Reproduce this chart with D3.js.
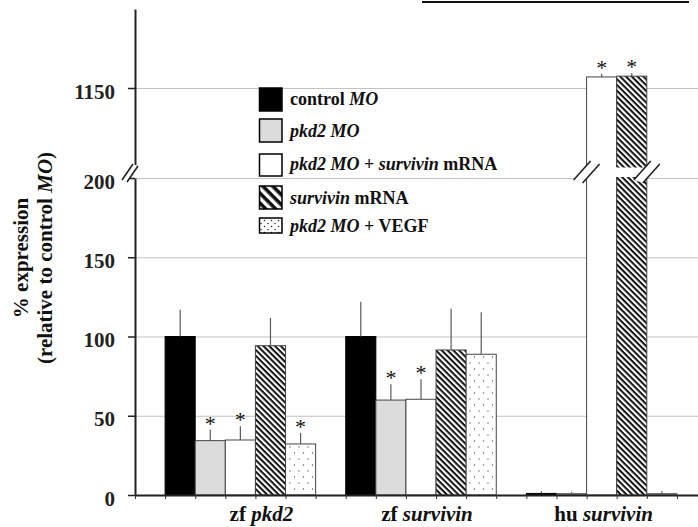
<!DOCTYPE html>
<html><head><meta charset="utf-8">
<script src="https://cdn.jsdelivr.net/npm/d3@7"></script>
<style>
html,body{margin:0;padding:0;background:#fff;}
svg{display:block;}
svg text{font-family:"Liberation Serif","Tinos","Times New Roman",Times,"DejaVu Serif",serif;}
</style></head><body>
<svg id="chart" width="698" height="527"></svg>
<script>
// Gene groups along the x axis
const groups = ["zf pkd2", "zf survivin", "hu survivin"];
const groupPrefix = ["zf", "zf", "hu"];
const groupGene = ["pkd2", "survivin", "survivin"];

// Treatments; legend labels as [text, italic] pieces
const seriesNames = ["control MO", "pkd2 MO", "pkd2 MO + survivin mRNA", "survivin mRNA", "pkd2 MO + VEGF"];
const seriesLabels = [
  [["control ", false], ["MO", true]],
  [["pkd2 MO", true]],
  [["pkd2 MO", true], [" + ", false], ["survivin", true], [" mRNA", false]],
  [["survivin", true], [" mRNA", false]],
  [["pkd2 MO", true], [" + VEGF", false]]
];

// % expression relative to control MO (zf pkd2, zf survivin, hu survivin)
const controlMO    = [100, 100, 1];
const pkd2MO       = [34.3, 59.9, 0.8];
const pkd2Survivin = [34.7, 60.4, 1157];
const survivinMRNA = [94.2, 91.5, 1157.5];
const pkd2VEGF     = [32.2, 88.8, 0.8];

// error bar heights (upper arm only)
const controlErr      = [16.8, 22, 1.5];
const pkd2Err         = [7, 10, 1];
const pkd2SurvivinErr = [8.6, 12.6, 2];
const survivinErr     = [17.5, 26, 2];
const vegfErr         = [7, 26.5, 1.5];

// significance markers
const controlSig      = [false, false, false];
const pkd2Sig         = [true, true, false];
const pkd2SurvivinSig = [true, true, true];
const survivinSig     = [false, false, true];
const vegfSig         = [true, false, false];

const lowTicks = [0, 50, 100, 150, 200];
const highTicks = [1150];

const seriesValues = [controlMO, pkd2MO, pkd2Survivin, survivinMRNA, pkd2VEGF];
const seriesErrors = [controlErr, pkd2Err, pkd2SurvivinErr, survivinErr, vegfErr];
const seriesSig = [controlSig, pkd2Sig, pkd2SurvivinSig, survivinSig, vegfSig];

const FONT = '"Liberation Serif", Tinos, "Times New Roman", Times, "DejaVu Serif", serif';
const svg = d3.select("#chart");
const W = 698, H = 527;
svg.append("rect").attr("width", W).attr("height", H).attr("fill", "#fff");

// ---- patterns ----
const defs = svg.append("defs");
function hatch(id, size, stripe) {
  const p = defs.append("pattern").attr("id", id).attr("patternUnits", "userSpaceOnUse")
    .attr("width", size).attr("height", size).attr("patternTransform", "rotate(45)");
  p.append("rect").attr("width", size).attr("height", size).attr("fill", "#fff");
  p.append("rect").attr("width", size).attr("height", stripe).attr("fill", "#111");
}
hatch("hatchBar", 4.1, 2);
hatch("hatchLegend", 7, 3.6);
function dots(id, w, h, pts, r, col) {
  const p = defs.append("pattern").attr("id", id).attr("patternUnits", "userSpaceOnUse")
    .attr("width", w).attr("height", h);
  p.append("rect").attr("width", w).attr("height", h).attr("fill", "#fff");
  pts.forEach(([x, y]) => p.append("circle").attr("cx", x).attr("cy", y).attr("r", r).attr("fill", col));
}
dots("dotsBar", 9, 12, [[2, 3], [6.5, 9]], 0.65, "#555");
dots("dotsLegend", 7, 6, [[2, 1.5], [5.5, 4.5]], 0.75, "#222");

const barFills = ["#000", "#dcdcdc", "#fff", "url(#hatchBar)", "url(#dotsBar)"];
const legendFills = ["#000", "#dcdcdc", "#fff", "url(#hatchLegend)", "url(#dotsLegend)"];

// ---- scales ----
const nSlots = 19;
const slot = d3.scaleLinear().domain([0, nSlots]).range([135, 707]);
const slotW = slot(1) - slot(0);
const yLow = d3.scaleLinear().domain([0, 200]).range([495, 178]);
const yHigh = d3.scaleLinear().domain([1100, 1200]).range([167, 9]);
const y = v => v <= 200 ? yLow(v) : yHigh(v);
const breakTop = yHigh(1100), breakBottom = yLow(200) - 1;
const breakMid = (breakTop + breakBottom) / 2 - 0.5;

// ---- grid ----
const grid = svg.append("g").attr("stroke", "#c2c2c2").attr("stroke-width", 1);
lowTicks.filter(d => d > 0).forEach(t => grid.append("line")
  .attr("x1", 135).attr("x2", W).attr("y1", yLow(t) + 0.5).attr("y2", yLow(t) + 0.5));
highTicks.forEach(t => grid.append("line")
  .attr("x1", 135).attr("x2", W).attr("y1", yHigh(t) + 0.5).attr("y2", yHigh(t) + 0.5));

// ---- bars ----
const bars = [];
groups.forEach((g, gi) => {
  seriesNames.forEach((s, si) => {
    bars.push({ gi, si, v: seriesValues[si][gi], e: seriesErrors[si][gi], sig: seriesSig[si][gi],
      x: slot(1 + gi * 6 + si) });
  });
});
const barG = svg.append("g");
bars.forEach(b => {
  barG.append("rect")
    .attr("x", b.x).attr("y", y(b.v))
    .attr("width", slotW).attr("height", yLow(0) - y(b.v))
    .attr("fill", barFills[b.si])
    .attr("stroke", b.si === 0 ? "#000" : "#444").attr("stroke-width", 1);
});
// gap across bars that run past the axis break
const broken = bars.filter(b => b.v > 200);
broken.forEach(b => {
  barG.append("rect").attr("x", b.x - 0.6).attr("y", breakTop + 0.5)
    .attr("width", slotW + 1.2).attr("height", breakBottom - breakTop - 0.5).attr("fill", "#fff");
});

// error bars
const errG = svg.append("g").attr("stroke", "#5a5a5a").attr("stroke-width", 1.2);
bars.forEach(b => {
  const cx = b.x + slotW / 2;
  errG.append("line").attr("x1", cx).attr("x2", cx).attr("y1", y(b.v)).attr("y2", y(b.v + b.e));
});

// significance stars
bars.filter(b => b.sig).forEach(b => {
  const cx = b.x + slotW / 2;
  svg.append("text").attr("x", cx).attr("y", y(b.v + b.e) + 1)
    .attr("text-anchor", "middle").attr("font-family", FONT).attr("font-size", 22).attr("fill", "#111").text("*");
});

// ---- axes ----
const axisLow = d3.axisLeft(yLow).tickValues(lowTicks).tickSize(7).tickSizeOuter(0).tickPadding(13).tickFormat(d3.format("d"));
const axisHigh = d3.axisLeft(yHigh).tickValues(highTicks).tickSize(7).tickSizeOuter(0).tickPadding(13).tickFormat(d3.format("d"));
function styleAxis(g) {
  g.attr("font-family", FONT);
  g.select(".domain").attr("stroke", "#222").attr("stroke-width", 2);
  g.selectAll(".tick line").attr("stroke", "#222").attr("stroke-width", 1.5);
  g.selectAll(".tick text").attr("font-family", FONT)
    .attr("font-size", 21).attr("font-weight", "bold").attr("fill", "#222").attr("dy", "0.48em");
}
svg.append("g").attr("transform", "translate(135,0)").call(axisLow).call(styleAxis);
svg.append("g").attr("transform", "translate(135,0)").call(axisHigh).call(styleAxis);

const axisX = d3.axisBottom(slot).tickValues(d3.range(0, nSlots)).tickSize(4).tickSizeOuter(0).tickFormat("");
svg.append("g").attr("transform", `translate(0,${yLow(0)})`).call(axisX)
  .call(g => {
    g.select(".domain").attr("stroke", "#222").attr("stroke-width", 2);
    g.selectAll(".tick line").attr("stroke", "#333").attr("stroke-width", 1);
  });

// ---- axis break marks ----
function breakMark(cx, cy, dx, dy, off) {
  const g = svg.append("g");
  const ax = cx - off[0] / 2, ay = cy - off[1] / 2, bx = cx + off[0] / 2, by = cy + off[1] / 2;
  g.append("polygon")
    .attr("points", [[ax - dx / 2, ay + dy / 2], [ax + dx / 2, ay - dy / 2], [bx + dx / 2, by - dy / 2], [bx - dx / 2, by + dy / 2]].map(p => p.join(",")).join(" "))
    .attr("fill", "#fff");
  [[ax, ay], [bx, by]].forEach(([x, yy]) => g.append("line")
    .attr("x1", x - dx / 2).attr("y1", yy + dy / 2).attr("x2", x + dx / 2).attr("y2", yy - dy / 2)
    .attr("stroke", "#222").attr("stroke-width", 1.6));
}
breakMark(130, breakMid + 1.5, 11, 16, [5, 2]);
if (broken.length) {
  const left = d3.min(broken, b => b.x), right = d3.max(broken, b => b.x + slotW);
  breakMark(left, breakMid + 0.5, 17, 19, [9, 3]);
  breakMark(right, breakMid + 0.5, 17, 19, [9, 3]);
}

// ---- category labels ----
const labelShift = [21, 6, 2];
groups.forEach((g, gi) => {
  const cx = (slot(1 + gi * 6) + slot(6 + gi * 6)) / 2 + labelShift[gi];
  const t = svg.append("text").attr("x", cx).attr("y", 521).attr("text-anchor", "middle")
    .attr("font-family", FONT).attr("font-size", 21).attr("font-weight", "bold").attr("fill", "#111");
  t.append("tspan").text(groupPrefix[gi] + " ");
  t.append("tspan").attr("font-style", "italic").text(groupGene[gi]);
});

// ---- y axis title ----
const yt = svg.append("g").attr("font-family", FONT).attr("font-size", 21).attr("font-weight", "bold").attr("fill", "#111");
yt.append("text").attr("transform", "translate(28,258) rotate(-90)").attr("text-anchor", "middle").text("% expression");
const yt2 = yt.append("text").attr("transform", "translate(52,258) rotate(-90)").attr("text-anchor", "middle");
yt2.append("tspan").text("(relative to control ");
yt2.append("tspan").attr("font-style", "italic").text("MO");
yt2.append("tspan").text(")");

// ---- legend ----
const legBoxTop = [88, 119, 154, 186, 218];
const legBoxH = [23, 23, 22, 23, 15];
const legBase = [105, 137, 170, 204, 232];
const leg = svg.append("g");
seriesNames.forEach((s, i) => {
  leg.append("rect").attr("x", 259.5).attr("y", legBoxTop[i]).attr("width", 22.5).attr("height", legBoxH[i])
    .attr("fill", legendFills[i]).attr("stroke", "#000").attr("stroke-width", 1.5);
  const t = leg.append("text").attr("x", 290).attr("y", legBase[i])
    .attr("font-family", FONT).attr("font-size", 18).attr("font-weight", "bold").attr("fill", "#111")
    .style("white-space", "pre");
  seriesLabels[i].forEach(([txt, it]) => t.append("tspan").attr("font-style", it ? "italic" : "normal").text(txt));
});

// ---- heading rule along the top edge ----
svg.append("line").attr("x1", 422).attr("x2", 689).attr("y1", 2).attr("y2", 2)
  .attr("stroke", "#111").attr("stroke-width", 2);
</script>
</body></html>
